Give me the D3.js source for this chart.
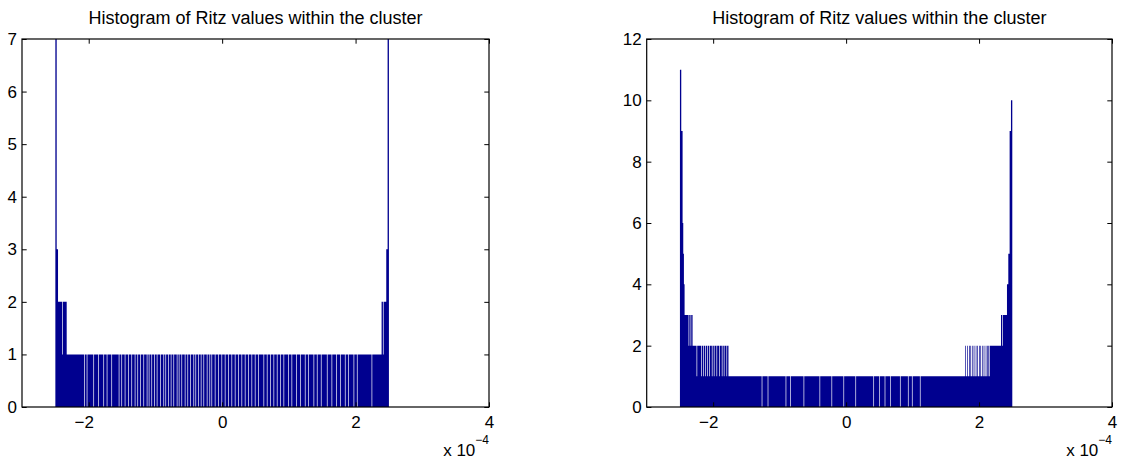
<!DOCTYPE html>
<html><head><meta charset="utf-8">
<script src="https://cdn.jsdelivr.net/npm/d3@7"></script>
<style>
html,body{margin:0;padding:0;background:#fff;}
svg{display:block;font-family:"Liberation Sans",Arial,Helvetica,sans-serif;}
</style></head><body>
<svg id="chart" width="1122" height="461"></svg>
<script>
// ---------------- data ----------------
const titleLeft = "Histogram of Ritz values within the cluster";
const titleRight = "Histogram of Ritz values within the cluster";
const xDomain = [-3, 4];            // in units of 1e-4
const xTicks = [-2, 0, 2, 4];
const exponentText = "x 10";
const exponentSup = "\u22124";
const yMaxLeft = 7;
const yTicksLeft = [0, 1, 2, 3, 4, 5, 6, 7];
const yMaxRight = 12;
const yTicksRight = [0, 2, 4, 6, 8, 10, 12];
const binRange = [-2.5, 2.5];       // histogram bins span (1e-4 units)

// bin counts, left histogram (500 bins)
const countsLeft = [
7,7,3,3,2,2,2,2,2,2,1,2,2,2,2,2,2,1,1,1,1,1,1,1,1,
1,1,1,1,1,1,1,1,1,1,1,1,1,1,1,1,1,1,0,1,1,1,0,1,1,
1,1,1,1,1,1,1,0,1,1,1,1,1,1,0,1,1,1,1,1,1,1,0,1,1,
1,1,0,1,1,1,1,1,1,0,1,1,1,1,1,1,1,1,1,1,0,1,1,1,0,
1,1,1,1,0,1,1,1,1,0,1,1,1,1,0,1,1,1,1,0,1,1,1,0,1,
1,1,0,1,1,1,1,0,1,1,1,1,0,1,1,0,1,1,1,0,1,1,1,0,1,
1,1,0,1,1,1,1,0,1,1,1,1,0,1,1,0,1,1,1,0,1,1,1,0,1,
1,1,0,1,1,1,1,0,1,1,0,1,1,1,0,1,1,1,1,0,1,1,1,0,1,
1,1,0,1,1,1,1,0,1,1,0,1,1,1,0,1,1,1,0,1,1,1,0,1,1,
1,1,0,1,1,1,0,1,1,0,1,1,1,1,0,1,1,1,1,0,1,1,1,1,0,
1,1,1,1,0,1,1,1,1,0,1,1,1,1,0,1,1,1,1,0,1,1,1,1,0,
1,1,1,1,0,1,1,1,1,0,1,1,1,1,0,1,1,1,1,0,1,1,1,1,0,
1,1,1,1,0,1,1,1,1,1,1,1,0,1,1,1,1,0,1,1,1,1,0,1,1,
1,1,0,1,1,1,1,0,1,1,1,1,0,1,1,1,1,0,1,1,1,1,1,1,0,
1,1,1,1,0,1,1,1,1,1,1,0,1,1,1,1,1,0,1,1,1,1,1,1,0,
1,1,1,1,0,1,1,1,1,1,1,1,0,1,1,1,1,0,1,1,1,1,1,0,1,
1,1,1,1,1,1,1,0,1,1,1,1,1,1,0,1,1,1,1,1,1,0,1,1,1,
1,1,0,1,1,1,1,1,1,0,1,1,1,1,0,1,1,1,1,1,1,1,0,1,1,
1,1,0,1,1,1,1,1,1,1,1,1,1,1,1,1,1,1,1,1,1,1,1,1,0,
1,1,1,1,1,1,1,1,1,1,1,1,1,1,2,2,1,2,2,2,2,3,3,7,7
];

// bin counts, right histogram (500 bins)
const countsRight = [
11,11,9,9,6,5,4,3,3,3,3,3,3,2,3,3,2,3,3,2,2,2,2,2,2,
1,2,2,2,2,2,2,1,2,2,1,2,2,1,2,2,1,2,2,1,2,2,2,1,2,
2,1,2,2,2,1,2,2,2,1,2,2,2,1,2,2,1,2,2,2,1,2,2,1,1,
1,1,1,1,1,1,1,1,1,1,1,1,1,1,1,1,1,1,1,1,1,1,1,1,1,
1,1,1,1,1,1,1,1,1,1,1,1,1,1,1,1,1,1,1,1,1,1,1,0,1,
1,1,1,1,1,1,1,0,1,1,1,1,1,1,1,1,1,1,1,1,1,1,1,1,1,
1,1,1,1,1,1,1,1,1,0,1,1,1,1,1,1,0,1,1,1,1,1,1,1,1,
1,1,1,1,1,1,1,1,1,1,1,0,1,1,1,1,1,1,1,1,1,1,1,1,1,
1,1,1,1,1,1,1,1,1,1,0,1,1,1,1,1,1,1,1,1,1,1,1,1,1,
1,1,1,0,1,1,1,1,1,1,1,1,1,1,1,1,1,1,1,1,1,0,1,1,1,
1,1,1,1,1,1,1,1,1,1,1,1,1,1,0,1,1,1,1,1,1,1,1,1,1,
1,1,1,1,1,1,1,1,1,1,1,1,1,1,1,1,0,1,1,1,1,1,1,1,1,
0,1,1,1,1,1,1,1,0,1,1,1,1,1,1,1,0,1,1,1,1,1,1,1,1,
1,1,1,1,1,1,0,1,1,1,1,1,1,1,1,1,1,1,0,1,1,1,1,1,0,
1,1,1,1,1,1,1,1,1,1,1,0,1,1,1,1,1,1,1,1,1,1,1,1,1,
1,1,1,1,1,1,1,1,1,1,1,1,1,1,1,1,1,1,1,1,1,1,1,1,1,
1,1,1,1,1,1,1,1,1,1,1,1,1,1,1,1,1,1,1,1,1,1,1,1,1,
1,1,1,1,2,1,1,2,1,1,2,1,2,1,1,2,1,2,1,1,2,1,2,1,1,
2,1,2,1,1,2,1,2,1,1,2,1,2,1,2,1,2,2,2,2,2,2,2,2,2,
2,2,2,2,2,2,2,2,3,3,2,3,3,3,3,3,3,4,4,5,5,9,9,10,10
];

// ---------------- drawing ----------------
const svg = d3.select("#chart");
const barColor = "#00008f";
const tickLen = 4.7;
const tickFont = 17;

const panels = [
  {x0: 22, x1: 489, y0: 39, y1: 407, counts: countsLeft, yMax: yMaxLeft, yTicks: yTicksLeft, title: titleLeft},
  {x0: 646.7, x1: 1112, y0: 39, y1: 407, counts: countsRight, yMax: yMaxRight, yTicks: yTicksRight, title: titleRight}
];

// measure minus sign width
const tmp = svg.append("text").attr("font-size", tickFont).text("\u2212");
const minusW = tmp.node().getComputedTextLength();
tmp.remove();

function fmt(d) { return d < 0 ? "\u2212" + Math.abs(d) : String(d); }

panels.forEach(p => {
  const g = svg.append("g");
  const x = d3.scaleLinear().domain(xDomain).range([p.x0, p.x1]);
  const y = d3.scaleLinear().domain([0, p.yMax]).range([p.y1, p.y0]);
  const n = p.counts.length;
  const bw = (binRange[1] - binRange[0]) / n;
  const pts = p.counts.map((c, i) => ({v: binRange[0] + i * bw, c}));
  pts.push({v: binRange[1], c: p.counts[n - 1]});
  const area = d3.area()
    .x(d => x(d.v)).y0(y(0)).y1(d => y(d.c))
    .curve(d3.curveStepAfter);
  g.append("path").attr("d", area(pts)).attr("fill", barColor).attr("stroke", "none");

  // axes
  const styleAxis = (sel) => {
    sel.select(".domain").remove();
    sel.selectAll(".tick line").attr("stroke", "#000").attr("stroke-width", 1);
    sel.selectAll("text").attr("fill", "#000").attr("font-size", tickFont)
      .attr("font-family", "'Liberation Sans',Arial,Helvetica,sans-serif");
  };
  const gb = g.append("g").attr("transform", `translate(0,${p.y1})`)
    .call(d3.axisBottom(x).tickValues(xTicks).tickSizeInner(-tickLen).tickSizeOuter(0).tickPadding(8.6).tickFormat(fmt));
  styleAxis(gb);
  gb.selectAll(".tick text").attr("dx", d => d < 0 ? -minusW / 2 : 0);
  const gt = g.append("g").attr("transform", `translate(0,${p.y0})`)
    .call(d3.axisTop(x).tickValues(xTicks).tickSizeInner(-tickLen).tickSizeOuter(0).tickFormat(""));
  styleAxis(gt);
  const gl = g.append("g").attr("transform", `translate(${p.x0},0)`)
    .call(d3.axisLeft(y).tickValues(p.yTicks).tickSizeInner(-tickLen).tickSizeOuter(0).tickPadding(5).tickFormat(fmt));
  styleAxis(gl);
  const gr = g.append("g").attr("transform", `translate(${p.x1},0)`)
    .call(d3.axisRight(y).tickValues(p.yTicks).tickSizeInner(-tickLen).tickSizeOuter(0).tickFormat(""));
  styleAxis(gr);

  // box
  g.append("rect").attr("x", p.x0).attr("y", p.y0)
    .attr("width", p.x1 - p.x0).attr("height", p.y1 - p.y0)
    .attr("fill", "none").attr("stroke", "#000").attr("stroke-width", 1.2);

  // title
  g.append("text").attr("x", (p.x0 + p.x1) / 2).attr("y", 24)
    .attr("text-anchor", "middle").attr("font-size", 18).attr("fill", "#000")
    .text(p.title);

  // exponent label
  const t = g.append("text").attr("x", p.x1).attr("y", 456)
    .attr("text-anchor", "end").attr("font-size", tickFont).attr("fill", "#000");
  t.append("tspan").text(exponentText);
  t.append("tspan").attr("font-size", 12).attr("dy", -12.5).text(exponentSup);
});
</script>
</body></html>
